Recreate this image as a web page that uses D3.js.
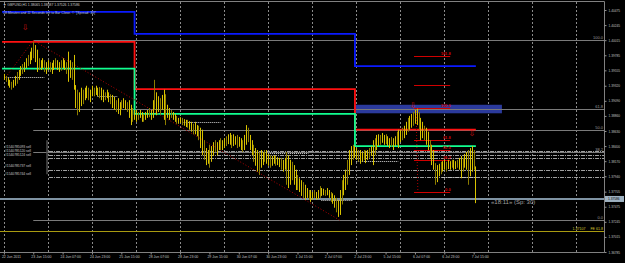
<!DOCTYPE html>
<html>
<head>
<meta charset="utf-8">
<script src="https://cdn.jsdelivr.net/npm/d3@7"></script>
<style>
body { margin: 0; background: #000; overflow: hidden; }
svg { display: block; }
</style>
</head>
<body>
<script>
var width = 625,
    height = 263,
    plotRight = 604,
    plotBottom = 252;

// H1 bars
var highs = [1.3950,1.3947,1.3944,1.3941,1.3938,1.3941,1.3947,1.3953,1.3956,1.3962,
  1.3965,1.3968,1.3974,1.3979,1.3984,1.3990,1.3999,1.3994,1.3987,1.3974,
  1.3971,1.3974,1.3971,1.3968,1.3971,1.3968,1.3967,1.3971,1.3974,1.3971,
  1.3968,1.3971,1.3974,1.3971,1.3968,1.3984,1.3971,1.3968,1.3979,1.3933,
  1.3926,1.3922,1.3929,1.3926,1.3929,1.3932,1.3929,1.3926,1.3932,1.3929,
  1.3932,1.3929,1.3930,1.3929,1.3926,1.3922,1.3926,1.3922,1.3919,1.3918,
  1.3915,1.3910,1.3913,1.3907,1.3910,1.3913,1.3910,1.3907,1.3910,1.3903,
  1.3898,1.3895,1.3895,1.3892,1.3895,1.3892,1.3889,1.3892,1.3895,1.3898,
  1.3895,1.3910,1.3941,1.3922,1.3916,1.3913,1.3918,1.3926,1.3919,1.3903,
  1.3898,1.3895,1.3892,1.3889,1.3886,1.3883,1.3884,1.3883,1.3881,1.3880,
  1.3880,1.3878,1.3877,1.3874,1.3877,1.3872,1.3871,1.3868,1.3865,1.3849,
  1.3837,1.3834,1.3842,1.3840,1.3846,1.3849,1.3846,1.3849,1.3852,1.3849,
  1.3852,1.3855,1.3858,1.3860,1.3857,1.3858,1.3855,1.3857,1.3854,1.3852,
  1.3849,1.3857,1.3872,1.3868,1.3857,1.3849,1.3842,1.3837,1.3834,1.3831,
  1.3834,1.3831,1.3834,1.3834,1.3828,1.3826,1.3825,1.3826,1.3825,1.3823,
  1.3822,1.3822,1.3819,1.3822,1.3831,1.3826,1.3819,1.3816,1.3811,1.3804,
  1.3796,1.3791,1.3788,1.3785,1.3781,1.3776,1.3773,1.3773,1.3770,1.3773,
  1.3770,1.3773,1.3779,1.3776,1.3775,1.3773,1.3776,1.3773,1.3770,1.3768,
  1.3765,1.3761,1.3758,1.3773,1.3788,1.3796,1.3804,1.3819,1.3834,1.3840,
  1.3842,1.3840,1.3837,1.3834,1.3834,1.3831,1.3834,1.3833,1.3834,1.3837,
  1.3840,1.3849,1.3852,1.3857,1.3858,1.3857,1.3860,1.3857,1.3858,1.3855,
  1.3852,1.3854,1.3852,1.3855,1.3862,1.3865,1.3865,1.3868,1.3871,1.3877,
  1.3883,1.3886,1.3889,1.3892,1.3895,1.3897,1.3892,1.3883,1.3877,1.3871,
  1.3868,1.3862,1.3849,1.3842,1.3834,1.3814,1.3811,1.3813,1.3816,1.3817,
  1.3819,1.3816,1.3819,1.3817,1.3819,1.3819,1.3817,1.3819,1.3822,1.3825,
  1.3822,1.3828,1.3831,1.3834,1.3837,1.3840,1.3834,1.3809];
var lows = [1.3941,1.3938,1.3932,1.3929,1.3926,1.3929,1.3932,1.3935,1.3941,1.3947,
  1.3950,1.3953,1.3959,1.3962,1.3965,1.3971,1.3974,1.3968,1.3953,1.3956,
  1.3956,1.3959,1.3953,1.3950,1.3956,1.3953,1.3950,1.3956,1.3959,1.3956,
  1.3953,1.3955,1.3959,1.3956,1.3950,1.3938,1.3944,1.3941,1.3926,1.3898,
  1.3887,1.3892,1.3901,1.3904,1.3910,1.3913,1.3910,1.3907,1.3916,1.3916,
  1.3918,1.3916,1.3913,1.3910,1.3907,1.3910,1.3913,1.3907,1.3904,1.3898,
  1.3895,1.3892,1.3889,1.3887,1.3895,1.3898,1.3895,1.3892,1.3883,1.3872,
  1.3877,1.3880,1.3877,1.3880,1.3883,1.3877,1.3877,1.3880,1.3883,1.3884,
  1.3880,1.3883,1.3895,1.3887,1.3892,1.3889,1.3895,1.3880,1.3872,1.3883,
  1.3880,1.3883,1.3880,1.3877,1.3874,1.3874,1.3875,1.3872,1.3871,1.3869,
  1.3868,1.3865,1.3862,1.3858,1.3858,1.3855,1.3849,1.3837,1.3826,1.3819,
  1.3811,1.3813,1.3807,1.3816,1.3825,1.3831,1.3826,1.3834,1.3834,1.3834,
  1.3837,1.3840,1.3843,1.3842,1.3837,1.3840,1.3842,1.3837,1.3839,1.3834,
  1.3831,1.3834,1.3842,1.3846,1.3834,1.3826,1.3816,1.3810,1.3801,1.3796,
  1.3807,1.3811,1.3816,1.3813,1.3810,1.3807,1.3810,1.3813,1.3810,1.3811,
  1.3808,1.3804,1.3801,1.3804,1.3781,1.3776,1.3781,1.3788,1.3781,1.3773,
  1.3773,1.3770,1.3764,1.3761,1.3758,1.3761,1.3758,1.3755,1.3758,1.3761,
  1.3758,1.3759,1.3761,1.3764,1.3765,1.3764,1.3765,1.3761,1.3755,1.3752,
  1.3746,1.3739,1.3732,1.3735,1.3751,1.3765,1.3773,1.3781,1.3796,1.3811,
  1.3819,1.3822,1.3819,1.3816,1.3813,1.3816,1.3819,1.3814,1.3819,1.3822,
  1.3825,1.3811,1.3826,1.3834,1.3840,1.3842,1.3845,1.3842,1.3843,1.3840,
  1.3837,1.3839,1.3834,1.3840,1.3842,1.3837,1.3846,1.3849,1.3852,1.3857,
  1.3862,1.3865,1.3868,1.3871,1.3874,1.3872,1.3865,1.3849,1.3852,1.3849,
  1.3842,1.3834,1.3822,1.3811,1.3804,1.3781,1.3785,1.3794,1.3797,1.3801,
  1.3804,1.3801,1.3805,1.3804,1.3807,1.3804,1.3805,1.3807,1.3804,1.3791,
  1.3801,1.3807,1.3804,1.3781,1.3794,1.3801,1.3804,1.3753];

var timeLabels = ["22 Jun 2011","23 Jun 15:00","24 Jun 07:00","24 Jun 23:00","25 Jun 15:00",
  "28 Jun 07:00","28 Jun 23:00","29 Jun 15:00","30 Jun 07:00","30 Jun 23:00","1 Jul 15:00",
  "2 Jul 07:00","2 Jul 23:00","5 Jul 15:00","6 Jul 07:00","6 Jul 23:00","7 Jul 15:00"];
var timeLabelBars = [0,16,32,48,64,80,96,112,128,144,160,176,192,208,224,240,256];
var gridBars = [0,24,48,72,96,120,144,168,192,216,240,264,288,312];
var priceTicks = [1.40475,1.40245,1.40015,1.39785,1.39555,1.39320,1.39090,1.38860,1.38630,
  1.38400,1.38170,1.37940,1.37705,1.37475,1.37245,1.37015,1.36785];

// daily level lines (step at day change)
var dayStarts = [-1, 71.2, 191.3];
var dayEnd = 257.2;
var redLevels = [1.3999, 1.3927, 1.3865];
var blueLevels = [1.40445, 1.4011, 1.3962];
var greenLevels = [1.3958, 1.3889, 1.3840];

// fibo retracement (gray)
var fibHigh = 1.4001, fibLow = 1.3727, fibFromBar = 16, fibToBar = 183;
var fibLevels = [0, 38.2, 50, 61.8, 100];
// fibo retracement (red, short)
var fib2High = 1.3898, fib2Low = 1.3770, fib2FromBar = 223.5, fib2ToBar = 243.2;
var fib2Levels = [0, 38.2, 50, 61.8, 100, 127.2, 161.8];
var fib2Labels = ["0.0", "38.2", "50.0", "61.8", "100.0", "", "161.8"];
var feLevel = 1.37107;
var legBars = [1, 16], legPrices = [1.3945, 1.4001];

var zoneTop = 1.3903, zoneBottom = 1.3890, zoneFromBar = 191.3, zoneToBar = 271.4;
var bid = 1.37586, ask = 1.37616;

var orderTickets = ["#1540785093 sell","#1540785120 sell","#1540785124 sell","#1540785737 sell","#1540785744 sell"];
var orderPrices = [1.3833, 1.3827, 1.3822, 1.3804, 1.3793];

var openFrom = [1, 51, 98, 144, 173, 192, 239];
var openTo = [22, 62, 118, 166, 190, 215, 257];
var openPrice = [1.3945, 1.3916, 1.3877, 1.3830, 1.3758, 1.3817, 1.3793];

var fractalBars = [11.5, 222.9, 255];
var fractalPrices = [1.4022, 1.3903, 1.3860];

var x = d3.scaleLinear().domain([0, 256]).range([3.9, 3.9 + 256 * 1.835]);
var y = d3.scaleLinear().domain([1.36785, 1.40475]).range([252, 10]);

var svg = d3.select("body")
            .append("svg")
            .attr("width", width)
            .attr("height", height)
            .style("background", "#000");

var font = "Liberation Sans, Arial, sans-serif";

// vertical grid
svg.selectAll(".grid")
   .data(gridBars)
   .enter()
   .append("line")
   .attr("x1", function(d) { return Math.round(x(d)) + 0.5; })
   .attr("x2", function(d) { return Math.round(x(d)) + 0.5; })
   .attr("y1", 2)
   .attr("y2", plotBottom)
   .attr("stroke", "#8a8a8a")
   .attr("stroke-dasharray", "2,2");

// frame
svg.append("path")
   .attr("d", "M0,1.5H" + (plotRight + 0.5) + "V" + (plotBottom + 0.5) + "H0")
   .attr("fill", "none")
   .attr("stroke", "#808080");

// blue zone
svg.append("rect")
   .attr("x", x(zoneFromBar))
   .attr("y", y(zoneTop))
   .attr("width", x(zoneToBar) - x(zoneFromBar))
   .attr("height", y(zoneBottom) - y(zoneTop))
   .attr("fill", "#2b3a9c");

// gray fibo levels
svg.selectAll(".fib")
   .data(fibLevels)
   .enter()
   .append("line")
   .attr("x1", x(fibFromBar))
   .attr("x2", plotRight)
   .attr("y1", function(d) { return Math.round(y(fibLow + (fibHigh - fibLow) * d / 100)) + 0.5; })
   .attr("y2", function(d) { return Math.round(y(fibLow + (fibHigh - fibLow) * d / 100)) + 0.5; })
   .attr("stroke", "#7a7a7a");

svg.selectAll(".fibtxt")
   .data(fibLevels)
   .enter()
   .append("text")
   .attr("x", plotRight - 1)
   .attr("y", function(d) { return y(fibLow + (fibHigh - fibLow) * d / 100) - 1; })
   .attr("text-anchor", "end")
   .attr("font-family", font)
   .attr("font-size", "4px")
   .attr("fill", "#9a9a9a")
   .text(function(d) { return d.toFixed(1); });

// FE line
svg.append("line")
   .attr("x1", 0).attr("x2", plotRight)
   .attr("y1", Math.round(y(feLevel)) + 0.5).attr("y2", Math.round(y(feLevel)) + 0.5)
   .attr("stroke", "#a89a10");
svg.append("text")
   .attr("x", plotRight - 1)
   .attr("y", y(feLevel) - 1)
   .attr("text-anchor", "end")
   .attr("font-family", font)
   .attr("font-size", "3.6px")
   .attr("fill", "#d8c830")
   .attr("xml:space", "preserve")
   .text(d3.format(".5f")(feLevel) + "     FE 61.8");

// sell order lines
svg.selectAll(".order")
   .data(orderPrices)
   .enter()
   .append("line")
   .attr("x1", x(24.6)).attr("x2", plotRight)
   .attr("y1", function(d) { return Math.round(y(d)) + 0.5; })
   .attr("y2", function(d) { return Math.round(y(d)) + 0.5; })
   .attr("stroke", "#a0a0a0")
   .attr("stroke-dasharray", "4,1,1,1");
svg.append("line")
   .attr("x1", x(23.5)).attr("x2", x(23.5))
   .attr("y1", y(d3.max(orderPrices) + 0.0016)).attr("y2", y(d3.min(orderPrices) + 0.0004))
   .attr("stroke", "#505050").attr("stroke-width", 1.5);
svg.selectAll(".ordertxt")
   .data(orderTickets)
   .enter()
   .append("text")
   .attr("x", 5)
   .attr("y", function(d, i) { return y(orderPrices[i]) - 2.2; })
   .attr("font-family", font)
   .attr("font-size", "3.3px")
   .attr("fill", "#c8c8c8")
   .text(function(d) { return d; });

// bid / ask
svg.selectAll(".ba")
   .data([ask, bid])
   .enter()
   .append("line")
   .attr("x1", 0).attr("x2", plotRight)
   .attr("y1", function(d) { return Math.round(y(d)) + 0.5; })
   .attr("y2", function(d) { return Math.round(y(d)) + 0.5; })
   .attr("stroke", "#7f93a3");

// daily open markers
svg.selectAll(".open")
   .data(openPrice)
   .enter()
   .append("line")
   .attr("x1", function(d, i) { return x(openFrom[i]); })
   .attr("x2", function(d, i) { return x(openTo[i]); })
   .attr("y1", function(d) { return Math.round(y(d)) + 0.5; })
   .attr("y2", function(d) { return Math.round(y(d)) + 0.5; })
   .attr("stroke", "#d8d8d8")
   .attr("stroke-dasharray", "1,1");

// step lines
function stepPath(levels) {
  var pts = dayStarts.map(function(b, k) { return [b, levels[k]]; });
  pts.push([dayEnd, levels[levels.length - 1]]);
  return d3.line()
           .x(function(d) { return x(d[0]); })
           .y(function(d) { return y(d[1]); })
           .curve(d3.curveStepAfter)(pts);
}
[[blueLevels, "#0a1aff"], [redLevels, "#ff1010"], [greenLevels, "#10ff90"]].forEach(function(s) {
  svg.append("path")
     .attr("d", stepPath(s[0]))
     .attr("fill", "none")
     .attr("stroke", s[1])
     .attr("stroke-width", 1.8);
});

// red short fibo
svg.selectAll(".fib2")
   .data(fib2Levels)
   .enter()
   .append("line")
   .attr("x1", x(fib2FromBar)).attr("x2", x(fib2ToBar))
   .attr("y1", function(d) { return Math.round(y(fib2Low + (fib2High - fib2Low) * d / 100)) + 0.5; })
   .attr("y2", function(d) { return Math.round(y(fib2Low + (fib2High - fib2Low) * d / 100)) + 0.5; })
   .attr("stroke", "#d00000");
svg.selectAll(".fib2txt")
   .data(fib2Levels)
   .enter()
   .append("text")
   .attr("x", x(fib2ToBar) + 0.5)
   .attr("y", function(d) { return y(fib2Low + (fib2High - fib2Low) * d / 100) - 1; })
   .attr("text-anchor", "end")
   .attr("font-family", font)
   .attr("font-size", "4px")
   .attr("font-weight", "bold")
   .attr("fill", "#d00000")
   .text(function(d, i) { return fib2Labels[i]; });

// dotted trend lines
var dotted = [
  [[legBars[0], legPrices[0]], [legBars[1], legPrices[1]]],
  [[fibFromBar, fibHigh], [fibToBar, fibLow]],
  [[224.6, fib2High], [225.6, fib2Low]]
];
svg.selectAll(".trend")
   .data(dotted)
   .enter()
   .append("line")
   .attr("x1", function(d) { return x(d[0][0]); })
   .attr("y1", function(d) { return y(d[0][1]); })
   .attr("x2", function(d) { return x(d[1][0]); })
   .attr("y2", function(d) { return y(d[1][1]); })
   .attr("stroke", "#b00000")
   .attr("stroke-dasharray", "1,2");

// bars
svg.selectAll(".bar")
   .data(highs)
   .enter()
   .append("line")
   .attr("x1", function(d, i) { return Math.round(x(i)) + 0.5; })
   .attr("x2", function(d, i) { return Math.round(x(i)) + 0.5; })
   .attr("y1", function(d) { return y(d); })
   .attr("y2", function(d, i) { return y(lows[i]); })
   .attr("stroke", function(d, i) { return i % 3 == 1 ? "#8c7c00" : "#d8c200"; })
   .attr("stroke-width", 1);

// fractal arrows
svg.selectAll(".frac")
   .data(fractalBars)
   .enter()
   .append("text")
   .attr("x", function(d) { return x(d); })
   .attr("y", function(d, i) { return y(fractalPrices[i]) + 3; })
   .attr("text-anchor", "middle")
   .attr("font-family", "DejaVu Sans")
   .attr("font-size", "8px")
   .attr("fill", "#d01010")
   .text("\u21e9");

// price axis
var yAxis = d3.axisRight(y)
              .tickValues(priceTicks)
              .tickSize(2)
              .tickFormat(d3.format(".5f"));
var ya = svg.append("g")
            .attr("transform", "translate(" + (plotRight + 0.5) + ",0)")
            .call(yAxis);
ya.select(".domain").remove();
ya.selectAll("line").attr("stroke", "#909090");
ya.selectAll("text")
  .attr("x", 4)
  .attr("font-family", font)
  .attr("font-size", "3.2px")
  .attr("fill", "#c0c0c0");

// bid label
svg.append("rect")
   .attr("x", plotRight + 1).attr("y", y(bid) - 3.5)
   .attr("width", 19).attr("height", 6)
   .attr("fill", "#9fb2c2");
svg.append("text")
   .attr("x", plotRight + 4).attr("y", y(bid) + 1)
   .attr("font-family", font)
   .attr("font-size", "3.2px")
   .attr("fill", "#000")
   .text(d3.format(".5f")(bid));

// time axis
var xAxis = d3.axisBottom(x)
              .tickValues(timeLabelBars)
              .tickSize(2)
              .tickFormat(function(d, i) { return timeLabels[i]; });
var xa = svg.append("g")
            .attr("transform", "translate(0," + (plotBottom + 0.5) + ")")
            .call(xAxis);
xa.select(".domain").remove();
xa.selectAll("line").attr("stroke", "#909090");
xa.selectAll("text")
  .attr("text-anchor", "start")
  .attr("x", -2.5)
  .attr("y", 3)
  .attr("font-family", font)
  .attr("font-size", "3.5px")
  .attr("fill", "#c0c0c0");

// header texts
svg.append("text")
   .attr("x", 3).attr("y", 6)
   .attr("font-family", font)
   .attr("font-size", "3.4px")
   .attr("fill", "#c8c8c8")
   .text("\u25bc  GBPUSD,H1  1.38065 1.38087 1.37526 1.37586");
svg.append("text")
   .attr("x", 3).attr("y", 13.5)
   .attr("font-family", font)
   .attr("font-size", "3.4px")
   .attr("fill", "#b8c0e0")
   .text("18 Minutes and 11 Seconds left to Bar Close. \u00a9  \"[Spread: 30]\"");

svg.append("text")
   .attr("x", 491).attr("y", 204)
   .attr("font-family", font)
   .attr("font-size", "6px")
   .attr("fill", "#a0a0a0")
   .text("\u00ab18:11\u00bb (Sp: 30)");
</script>
</body>
</html>
